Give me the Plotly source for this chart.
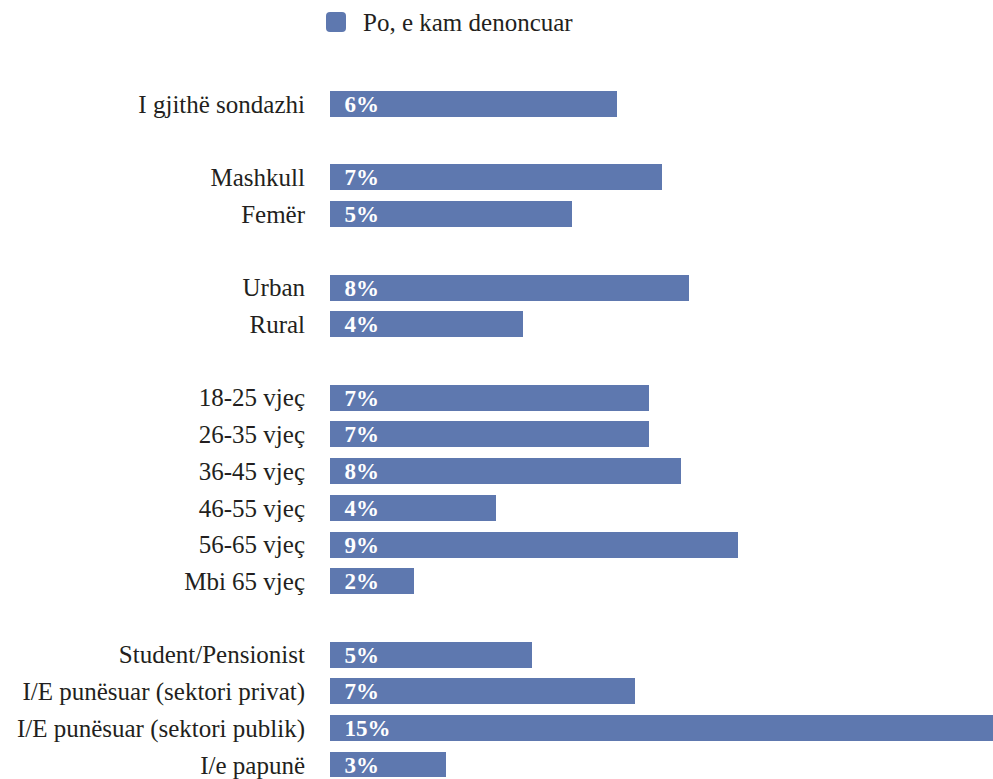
import plotly.graph_objects as go

# categories (blank entries are the gaps between groups)
categories = [
    "I gjithë sondazhi", " ",
    "Mashkull", "Femër", "  ",
    "Urban", "Rural", "   ",
    "18-25 vjeç", "26-35 vjeç", "36-45 vjeç", "46-55 vjeç", "56-65 vjeç", "Mbi 65 vjeç", "    ",
    "Student/Pensionist", "I/E punësuar (sektori privat)", "I/E punësuar (sektori publik)", "I/e papunë",
]
# share who reported (%)
reported = [
    6.43, None,
    7.44, 5.43, None,
    8.05, 4.33, None,
    7.15, 7.15, 7.87, 3.72, 9.15, 1.88, None,
    4.53, 6.84, 15.0, 2.60,
]
series_name = "Po, e kam denoncuar"

BAR = "#5e78af"
INK = "#231f20"
SERIF = "Liberation Serif"

W, H = 993, 779
ML, MT = 330, 86
PW, PH = W - ML, H - MT
PX_PER_PCT = 44.6

fig = go.Figure()
fig.add_trace(go.Bar(
    y=categories, x=reported, orientation="h",
    marker=dict(color=BAR, line=dict(width=0)),
    width=0.71,
    texttemplate="\u00a0\u00a0<b>%{x:.0f}%</b>",
    textposition="inside", insidetextanchor="start", constraintext="none",
    textfont=dict(family=SERIF, size=23, color="white"),
    cliponaxis=True, showlegend=False, hoverinfo="skip",
))

# legend drawn by hand so the swatch can be big and rounded
fig.add_shape(
    type="path", xref="paper", yref="paper",
    xsizemode="pixel", ysizemode="pixel", xanchor=0, yanchor=1,
    path="M -4,58 Q -4,54 0,54 L 12,54 Q 16,54 16,58 L 16,70 Q 16,74 12,74 L 0,74 Q -4,74 -4,70 Z",
    fillcolor=BAR, line=dict(width=0),
)
fig.add_annotation(
    text=series_name, xref="paper", yref="paper",
    x=31 / PW, y=(H - 22) / PH, xanchor="left", yanchor="middle",
    showarrow=False, font=dict(family=SERIF, size=25, color=INK),
)

fig.update_layout(
    width=W, height=H,
    margin=dict(l=ML, r=0, t=MT, b=0),
    paper_bgcolor="white", plot_bgcolor="white",
    bargap=0,
    xaxis=dict(range=[0, PW / PX_PER_PCT], visible=False, fixedrange=True),
    yaxis=dict(
        type="category", categoryorder="array", categoryarray=categories,
        range=[18.33, -0.49], showgrid=False, zeroline=False, showline=False,
        ticks="", ticklabelstandoff=24, fixedrange=True,
        tickfont=dict(family=SERIF, size=25, color=INK),
    ),
    showlegend=False,
)

# drop the browser's default body margin so the figure fills the window
fig.write_html(
    "out.html",
    config={"displayModeBar": False},
    post_script="document.body.style.margin='0';document.body.style.overflow='hidden';",
)
